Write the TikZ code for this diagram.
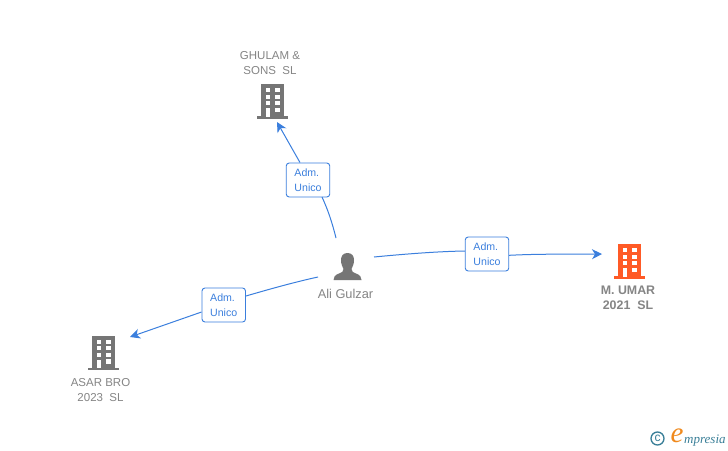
\documentclass[tikz,border=0pt]{standalone}
\usepackage{fontspec}
\setmainfont{Liberation Sans}
\newfontfamily\logofont{Liberation Serif}
\usetikzlibrary{arrows.meta}
\definecolor{linkblue}{HTML}{3B7FDD}
\definecolor{iconGray}{HTML}{757575}
\definecolor{txtGray}{HTML}{858585}
\definecolor{iconOrange}{HTML}{FF5A26}
\definecolor{logoTeal}{HTML}{3A7F98}
\definecolor{logoOrange}{HTML}{F08A1E}
\tikzset{
  x=1pt,y=-1pt,
  link/.style={draw=linkblue,line width=1pt},
  linkarrow/.style={link,-{Stealth[length=10pt,width=10pt,inset=3pt]}},
  rolebox/.style={draw=linkblue,line width=0.9pt,fill=white,rounded corners=3pt,minimum width=43.5pt,minimum height=34pt,inner sep=0pt,font=\fontsize{10.6}{15}\selectfont,text=linkblue,align=left},
  nametext/.style={font=\fontsize{11.5}{15}\selectfont,text=txtGray,align=center,inner sep=0pt},
  namebold/.style={font=\fontsize{12.4}{15.5}\bfseries\selectfont,text=txtGray,align=center,inner sep=0pt},
  pics/building/.style={code={
    \fill[#1] (-11,-16.5) rectangle (11.5,16);
    \fill[#1] (-15.5,15.5) rectangle (16,18);
    \foreach \yy in {-12.5,-6,0.5}{
      \fill[white] (-6.5,\yy) rectangle (-2.5,\yy+4);
      \fill[white] (3,\yy) rectangle (7.5,\yy+4);
    }
    \fill[white] (3,7) rectangle (7.5,11.5);
    \fill[white] (-6.5,7.5) rectangle (-2.5,16);
  }}
}
\begin{document}
\begin{tikzpicture}
\useasboundingbox (0,0) rectangle (728,450);
\fill[white] (0,0) rectangle (728,450);

% buildings
\pic at (272,100.5) {building=iconGray};
\pic at (629,260.5) {building=iconOrange};
\pic at (103,352) {building=iconGray};

% person
\fill[iconGray] (347.5,253) .. controls (352,253) and (354,256) .. (354,260)
  .. controls (354,264) and (352.5,267) .. (351.5,269)
  .. controls (351.5,271.5) and (353,272.5) .. (356,273.5)
  .. controls (360,275) and (361.5,277) .. (361.5,280)
  -- (333.5,280)
  .. controls (333.5,277) and (335,275) .. (339,273.5)
  .. controls (342,272.5) and (343.5,271.5) .. (343.5,269)
  .. controls (342.5,267) and (341,264) .. (341,260)
  .. controls (341,256) and (343,253) .. (347.5,253) -- cycle;

% names
\node[nametext] (ghulam) at (270,63) {GHULAM \&\\SONS\ \ SL};
\node[namebold] (umar) at (628,298) {M. UMAR\\2021\ \ SL};
\node[nametext] (asar) at (100.5,390) {ASAR BRO\\2023\ \ SL};
\node[nametext,font=\fontsize{12.8}{15}\selectfont] (ali) at (345.5,293.5) {Ali Gulzar};

% role boxes
\node[rolebox] (r1) at (308,180) {Adm.\\Unico};
\node[rolebox] (r2) at (487,254) {Adm.\\Unico};
\node[rolebox] (r3) at (223.75,305) {Adm.\\Unico};

% free ends
\coordinate (p1) at (336,238);
\coordinate (p2) at (374,257);
\coordinate (p3) at (318,277);
\coordinate (t1) at (277,122);
\coordinate (t2) at (602,254);
\coordinate (t3) at (130,337);

% connectors
\draw[link] (p1) .. controls (332,222) and (328,210) .. (322,197);
\draw[linkarrow] ([xshift=-8pt]r1.north) -- (t1);
\draw[link] (p2) .. controls (400,254.5) and (435,251.5) .. ([yshift=3pt]r2.west);
\draw[linkarrow] ([yshift=-1.3pt]r2.east) .. controls (545,253.5) and (575,254.5) .. (t2);
\draw[link] (p3) .. controls (295,282) and (270,289) .. ([yshift=9pt]r3.east);
\draw[linkarrow] ([yshift=-7pt]r3.west) -- (t3);

% logo
\node[circle,draw=logoTeal,line width=1.3pt,minimum size=13pt,inner sep=0pt,font=\fontsize{12}{12}\selectfont,text=logoTeal] (copy) at (657.5,438.5) {c};
\node[inner sep=0pt,font=\logofont\fontsize{29}{29}\itshape\selectfont,text=logoOrange] (elogo) at (677,436) {e};
\node[inner sep=0pt,anchor=base west,font=\logofont\fontsize{13}{13}\itshape\selectfont,text=logoTeal] (mpresia) at (684,443) {mpresia};
\end{tikzpicture}
\end{document}
